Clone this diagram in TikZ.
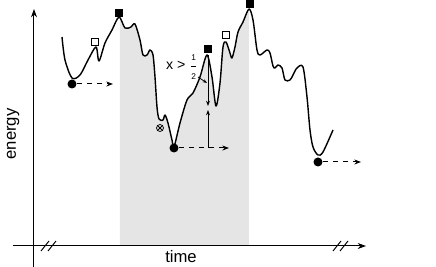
\documentclass[tikz,border=0pt]{standalone}
\usepackage{fontspec}
\setmainfont{Liberation Sans}
\usetikzlibrary{arrows.meta, positioning}

\tikzset{
  maxmark/.style={rectangle, fill=black, inner sep=0pt, minimum size=4.6pt},
  savedmark/.style={rectangle, draw=black, fill=white, line width=0.5pt, inner sep=0pt, minimum size=4.2pt},
  minmark/.style={circle, fill=black, inner sep=0pt, minimum size=5.4pt},
  lostmark/.style={circle, draw=black, line width=0.45pt, inner sep=0pt, minimum size=4.2pt},
  jumparrow/.style={dashed, line width=0.6pt, -{Stealth[length=4pt, width=3pt]}},
  barrier/.style={line width=0.55pt, -{Stealth[length=3.2pt, width=2.4pt]}},
  axis/.style={line width=0.6pt},
}

\newcommand{\energycurve}{plot[smooth, tension=0.5] coordinates {
  (62,37) (65,60) (72,78) (80,75) (88,60) (96,47) (99,61) (105,43) (112,30) (119,17)
  (125,28) (131,27) (135,24) (140,40) (143,55) (147,55) (150,50) (153,55) (155,77)
  (157,107) (159,119) (163,120) (165,115) (168,123) (172,140) (174,147)
  (180,123) (187,100) (193,93) (200,77) (207,55)
  (212,77) (216,106) (220,83) (223,47) (226,42) (230,53) (232,58) (235,47) (238,32)
  (243,22) (249,9) (253,20) (257,50) (260,55) (267,50) (270,53) (273,66) (275,68)
  (278,65) (282,68) (285,80) (290,80) (293,75) (297,68) (303,67) (307,97) (310,130)
  (313,147) (318,155) (323,152) (333,130)}}

\begin{document}
\begin{tikzpicture}[x=0.6pt, y=-0.6pt, font=\fontsize{10}{12}\selectfont]
  \useasboundingbox (0,0) rectangle (436,267);

  %% Shaded part under the curve
  \begin{scope}
    \clip (120,0) rectangle (249,246);
    \fill[gray!20] \energycurve -- (333,246) -- (62,246) -- cycle;
  \end{scope}

  %% Axes
  \draw[axis, -{Stealth[length=5pt, width=3.6pt]}] (34,267) -- (34,9);
  \draw[axis, -{Stealth[length=5pt, width=3.6pt]}] (13,246) -- (366,246);
  \foreach \bx in {45,52,337,344}
    \draw[axis] (\bx-4,251) -- (\bx+4,241);
  \node (timelabel) at (181,257) {time};
  \node[rotate=90] (energylabel) at (13,134) {energy};

  %% Energy curve
  \draw[line width=0.85pt, line join=round] \energycurve;

  %% Markers
  \node[maxmark] (top1) at (119,13) {};
  \node[maxmark] (top2) at (208,49) {};
  \node[maxmark] (top3) at (250,4) {};
  \node[savedmark] (saved1) at (95,42) {};
  \node[savedmark] (saved2) at (226,35) {};
  \node[minmark] (min1) at (72,84) {};
  \node[minmark] (min2) at (174,148) {};
  \node[minmark] (min3) at (318,162) {};
  \node[lostmark] (lost) at (160,128) {};
  \draw[line width=0.45pt] (lost.north east) -- (lost.south west)
                           (lost.north west) -- (lost.south east);

  %% Jumps
  \coordinate (jump1) at (113,84);
  \coordinate (jump2) at (229,148);
  \coordinate (jump3) at (361,162);
  \draw[jumparrow] (min1) -- (jump1);
  \draw[jumparrow] (min2) -- (jump2);
  \draw[jumparrow] (min3) -- (jump3);

  %% Barrier height
  \coordinate (peak) at (208,55);
  \coordinate (foot) at (208,148);
  \draw[barrier] (peak) -- (208,106);
  \draw[barrier] (foot) -- (208,110);
  \node[font=\fontsize{8.5}{10}\selectfont, inner sep=1pt] (ratio) at (182,67)
    {x > ${\displaystyle\frac{\mbox{\tiny 1}}{\mbox{\tiny 2}}}$};
  \coordinate (ratiotip) at (207,83);
  \draw[line width=0.45pt, -{Stealth[length=2.6pt, width=2pt]}] (198,77) -- (ratiotip);
\end{tikzpicture}
\end{document}
